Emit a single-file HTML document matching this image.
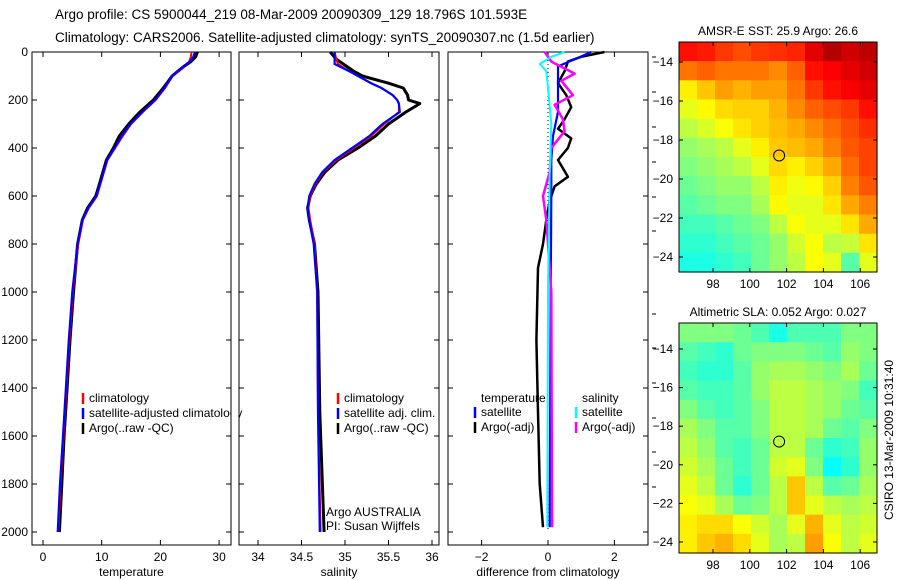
<!DOCTYPE html>
<html><head><meta charset="utf-8"><style>
html,body{margin:0;padding:0;background:#fff}
svg{display:block;font-family:"Liberation Sans",sans-serif}
</style></head><body>
<svg id="fig" width="900" height="580" viewBox="0 0 900 580">
<text x="55" y="19" font-size="13.5">Argo profile: CS 5900044_219 08-Mar-2009 20090309_129 18.796S 101.593E</text>
<text x="55" y="42" font-size="13.5">Climatology: CARS2006. Satellite-adjusted climatology: synTS_20090307.nc (1.5d earlier)</text>
<g id="g"></g>
<text transform="translate(893,440) rotate(-90)" text-anchor="middle" font-size="12">CSIRO 13-Mar-2009 10:31:40</text>
</svg>
<script>
// ---- data ----
const depthTicks=[0,200,400,600,800,1000,1200,1400,1600,1800,2000];
const tempTicks=[0,10,20,30];
const salTicks=[34,34.5,35,35.5,36];
const diffTicks=[-2,0,2];
const tArgoZ=[0,20,40,60,80,100,150,200,250,300,350,400,450,500,550,600,650,700,800,1000,1200,1400,1600,1800,2000];
const tArgo=[26.3,26.0,25.2,24.0,23.0,22.0,20.5,18.8,16.5,14.6,13.0,12.0,10.8,10.2,9.6,9.0,7.6,6.7,5.9,5.2,4.6,4.1,3.6,3.2,2.8];
const tClim=[25.3,25.2,24.9,24.0,23.0,22.1,20.8,19.2,17.0,15.0,13.6,12.3,11.0,10.4,9.8,9.2,7.8,6.8,6.0,5.1,4.5,4.0,3.5,3.0,2.6];
const tSat=[25.9,25.6,25.0,23.9,22.9,22.0,20.7,19.1,16.9,14.9,13.4,12.2,10.9,10.3,9.7,9.1,7.7,6.7,5.9,5.0,4.4,3.9,3.4,2.9,2.5];
const sZ=[0,30,50,80,100,130,150,180,200,215,250,300,350,400,450,500,550,600,650,700,800,1000,1500,2000];
const sArgo=[34.83,34.9,34.98,35.1,35.2,35.5,35.67,35.72,35.73,35.86,35.7,35.5,35.35,35.15,34.92,34.77,34.67,34.6,34.57,34.59,34.65,34.69,34.71,34.76];
const sClim=[34.88,34.9,34.92,35.05,35.15,35.3,35.42,35.55,35.6,35.62,35.62,35.45,35.3,35.1,34.9,34.75,34.66,34.6,34.58,34.6,34.65,34.68,34.69,34.72];
const sSat=[34.88,34.88,34.88,35.05,35.15,35.3,35.42,35.55,35.6,35.62,35.63,35.43,35.28,35.08,34.88,34.74,34.65,34.59,34.57,34.59,34.64,34.68,34.69,34.71];
const dZ1=[0,20,40,80,130,180,230,280,320,360,400,450,520,560,620,700,800,900,1200,1500,1800,1980];
const dArgoT=[1.7,1.0,0.6,0.5,0.3,0.55,0.7,0.5,0.3,0.7,0.6,0.3,0.6,0.2,0.05,-0.05,-0.15,-0.3,-0.35,-0.3,-0.25,-0.15];
const dZ2=[0,30,60,150,250,350,450,600,1000,1980];
const dSatT=[1.3,0.8,0.3,0.3,0.3,0.15,0.1,0.1,0.08,0.05];
const dZ3=[0,20,50,80,150,300,500,1000,1980];
const dSatS=[0.5,0.1,-0.25,-0.05,0,0.1,0.05,0,-0.02];
const dZ4=[0,40,90,120,180,220,280,330,400,500,600,700,800,1000,1980];
const dArgoS=[-0.1,0.1,0.8,0.4,0.75,0.2,0.45,0.5,0.1,0.05,-0.15,-0.05,0,0.1,0.12];
const lonTicks=[98,100,102,104,106];
const latTicks=[14,16,18,20,22,24];
const argoLon=101.593, argoLat=18.796;
const sstGrid=[
[0.86,0.85,0.82,0.8,0.82,0.83,0.84,0.9,0.95,0.92,0.94],
[0.76,0.78,0.76,0.76,0.76,0.74,0.78,0.86,0.88,0.9,0.92],
[0.64,0.68,0.72,0.7,0.72,0.72,0.76,0.82,0.86,0.88,0.9],
[0.6,0.63,0.66,0.67,0.67,0.7,0.74,0.78,0.8,0.82,0.86],
[0.56,0.59,0.62,0.65,0.67,0.69,0.71,0.74,0.77,0.8,0.83],
[0.52,0.54,0.56,0.6,0.64,0.68,0.69,0.71,0.75,0.79,0.81],
[0.5,0.52,0.54,0.56,0.6,0.66,0.64,0.67,0.71,0.77,0.81],
[0.48,0.5,0.52,0.52,0.56,0.64,0.61,0.63,0.67,0.75,0.79],
[0.46,0.48,0.5,0.5,0.54,0.63,0.6,0.6,0.65,0.71,0.75],
[0.44,0.44,0.46,0.48,0.5,0.56,0.62,0.6,0.6,0.65,0.71],
[0.42,0.42,0.44,0.46,0.48,0.52,0.58,0.62,0.56,0.57,0.65],
[0.4,0.4,0.42,0.44,0.48,0.52,0.56,0.62,0.6,0.46,0.6]];
const slaGrid=[
[0.5,0.5,0.5,0.48,0.45,0.4,0.45,0.45,0.45,0.5,0.5],
[0.46,0.44,0.42,0.48,0.5,0.5,0.5,0.48,0.46,0.52,0.5],
[0.44,0.42,0.42,0.46,0.52,0.54,0.54,0.52,0.5,0.54,0.48],
[0.46,0.44,0.44,0.46,0.52,0.56,0.56,0.54,0.52,0.5,0.44],
[0.5,0.46,0.44,0.46,0.5,0.56,0.56,0.54,0.52,0.48,0.46],
[0.54,0.5,0.46,0.46,0.5,0.56,0.56,0.54,0.48,0.46,0.5],
[0.56,0.52,0.46,0.44,0.48,0.56,0.56,0.48,0.42,0.44,0.52],
[0.58,0.54,0.48,0.44,0.48,0.58,0.6,0.5,0.38,0.42,0.52],
[0.6,0.56,0.48,0.42,0.48,0.56,0.68,0.56,0.46,0.48,0.54],
[0.62,0.6,0.54,0.48,0.5,0.56,0.68,0.6,0.56,0.54,0.56],
[0.64,0.66,0.66,0.62,0.58,0.54,0.6,0.7,0.6,0.56,0.58],
[0.64,0.68,0.7,0.66,0.6,0.54,0.56,0.72,0.62,0.56,0.6]];

const NS='http://www.w3.org/2000/svg', G=document.getElementById('g');
function mk(tag,at,parent){const e=document.createElementNS(NS,tag);for(const k in at)e.setAttribute(k,at[k]);(parent||G).appendChild(e);return e;}
function txt(x,y,s,anchor,size,name){const e=mk('text',{x:x,y:y,'text-anchor':anchor||'start','font-size':size||12});e.textContent=s;


return e;}
const yD=d=>52+d*0.24;
const PB=545;
function panel(x0,x1,ticks,sc,fmt,label,name,leftLabels){
  const r=mk('rect',{x:x0,y:52,width:x1-x0,height:PB-52,fill:'none',stroke:'#000','stroke-width':1});
  
  
  ticks.forEach(t=>{const x=sc(t);mk('line',{x1:x,x2:x,y1:PB,y2:PB-5,stroke:'#000'});mk('line',{x1:x,x2:x,y1:52,y2:57,stroke:'#000'});
    txt(x,561,fmt(t),'middle',12,name+'-x-tick-label');});
  depthTicks.forEach(d=>{const y=yD(d);mk('line',{x1:x0,x2:x0+5,y1:y,y2:y,stroke:'#000'});mk('line',{x1:x1,x2:x1-5,y1:y,y2:y,stroke:'#000'});
    if(leftLabels)txt(28,y+4,String(d),'end',12,'depth-tick-label');});
  txt((x0+x1)/2,576,label,'middle',12,name+'-x-axis-title');
}
function line(xs,zs,sc,col,w,name,dash){
  const p=xs.map((v,i)=>(i?'L':'M')+sc(v).toFixed(1)+','+yD(zs[i]).toFixed(1)).join('');
  const e=mk('path',{d:p,fill:'none',stroke:col,'stroke-width':w,'stroke-linejoin':'round'});
  if(dash)e.setAttribute('stroke-dasharray',dash);
  
  
}
function legend(x,y,items){items.forEach((it,i)=>{mk('line',{x1:x,x2:x,y1:y+i*15-9,y2:y+i*15+2,stroke:it[0],'stroke-width':2.5});
  txt(x+6,y+i*15,it[1],'start',12,'legend-entry');});}

// panel 1 temperature
const sT=v=>43+v*5.87;
panel(32,231,tempTicks,sT,String,'temperature','temperature-panel',true);
line(tArgo,tArgoZ,sT,'#000',3,'temperature-argo-line');
line(tClim,tArgoZ,sT,'#f00',2,'temperature-climatology-line');
line(tSat,tArgoZ,sT,'#00f',2.2,'temperature-satellite-line');
legend(83,402,[['#f00','climatology'],['#00f','satellite-adjusted climatology'],['#000','Argo(..raw -QC)']]);
// panel 2 salinity
const sS=v=>258+(v-34)*87;
mk('rect',{x:231.5,y:52,width:7,height:PB-52,fill:'#fff'});
panel(239,439,salTicks,sS,String,'salinity','salinity-panel',false);
line(sArgo,sZ,sS,'#000',3,'salinity-argo-line');
line(sClim,sZ,sS,'#f00',2,'salinity-climatology-line');
line(sSat,sZ,sS,'#00f',2.2,'salinity-satellite-line');
legend(338,402,[['#f00','climatology'],['#00f','satellite adj. clim.'],['#000','Argo(..raw -QC)']]);
txt(326,516,'Argo AUSTRALIA','start',12,'argo-australia-label');
txt(326,530,'PI: Susan Wijffels','start',12,'pi-label');
// panel 3 difference
const sD=v=>548+v*33.2;
panel(448,648,diffTicks,sD,v=>v===0?'0':(v<0?'\u2212'+(-v):String(v)),'difference from climatology','difference-panel',false);
mk('line',{x1:sD(0),x2:sD(0),y1:52,y2:yD(2000),stroke:'#000','stroke-dasharray':'1,3'});
line(dArgoT,dZ1,sD,'#000',2.5,'diff-temperature-argo-line');
line(dSatT,dZ2,sD,'#00f',2.2,'diff-temperature-satellite-line');
line(dArgoS,dZ4,sD,'#f0f',2.5,'diff-salinity-argo-line');
line(dSatS,dZ3,sD,'#0ff',2,'diff-salinity-satellite-line');
txt(481,402,'temperature','start',12,'legend-title-temperature');
legend(475,416,[['#00f','satellite'],['#000','Argo(-adj)']]);
txt(582,402,'salinity','start',12,'legend-title-salinity');
legend(576,416,[['#0ff','satellite'],['#f0f','Argo(-adj)']]);
[57,92,127,162,197,231,314,348,383,418,452,487].forEach(y=>mk('line',{x1:652,x2:656,y1:y,y2:y,stroke:'#000'}));

// maps
function jet(v){const c=x=>Math.round(255*Math.max(0,Math.min(1,x)));
  return 'rgb('+c(1.5-Math.abs(4*v-3))+','+c(1.5-Math.abs(4*v-2))+','+c(1.5-Math.abs(4*v-1))+')';}
function map(top,grid,title,name,lat14,lat24){
  const x0=679,x1=877,y0=top,y1=top+230;
  const lx=lon=>713+(lon-98)*18.4;
  const ly=lat=>lat14+(lat-14)*(lat24-lat14)/10;
  const rows=grid.length,cols=grid[0].length,cw=(x1-x0)/cols,ch=(y1-y0)/rows;
  grid.forEach((row,i)=>row.forEach((v,j)=>{const r=mk('rect',{x:x0+j*cw,y:y0+i*ch,width:cw+0.6,height:ch+0.6,fill:jet(v)});
    
    }));
  const f=mk('rect',{x:x0,y:y0,width:x1-x0,height:y1-y0,fill:'none',stroke:'#000'});
  
  
  txt((x0+x1)/2,y0-7,title,'middle',12,name+'-title');
  lonTicks.forEach(l=>{const x=lx(l);mk('line',{x1:x,x2:x,y1:y1,y2:y1-4,stroke:'#000'});mk('line',{x1:x,x2:x,y1:y0,y2:y0+4,stroke:'#000'});
    txt(x,y1+16,String(l),'middle',12,name+'-lon-tick-label');});
  latTicks.forEach(l=>{const y=ly(l);mk('line',{x1:x0,x2:x0+4,y1:y,y2:y,stroke:'#000'});mk('line',{x1:x1,x2:x1-4,y1:y,y2:y,stroke:'#000'});
    txt(x0-6,y+4,'\u2212'+l,'end',12,name+'-lat-tick-label');});
  const c=mk('circle',{cx:lx(argoLon),cy:ly(argoLat),r:5.5,fill:'none',stroke:'#000','stroke-width':1});
  
  
}
map(42,sstGrid,'AMSR-E SST: 25.9 Argo: 26.6','sst-map',62,257);
map(323,slaGrid,'Altimetric SLA: 0.052 Argo: 0.027','sla-map',349,542);
</script>
</body></html>
